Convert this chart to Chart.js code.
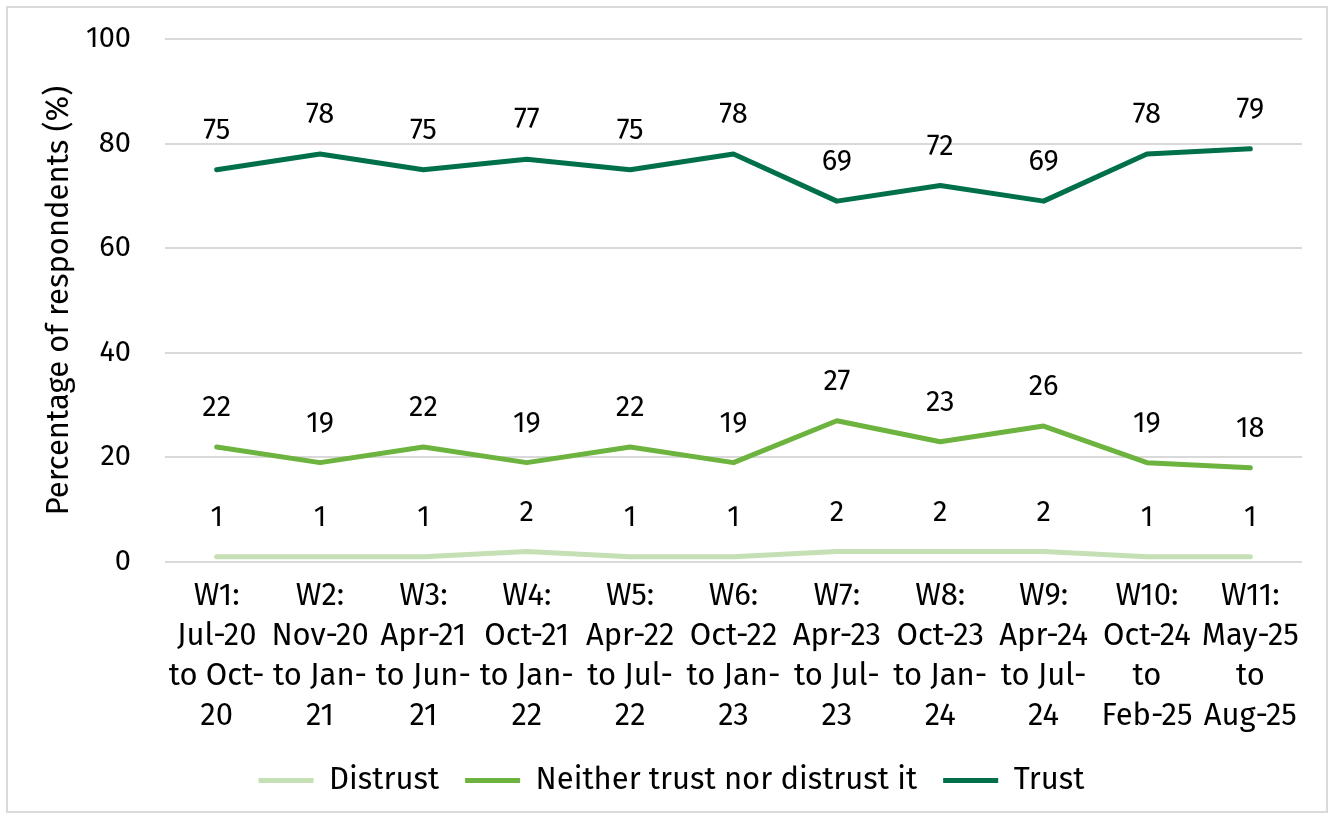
<!DOCTYPE html>
<html>
<head>
<meta charset="utf-8">
<script src="https://cdn.jsdelivr.net/npm/chart.js@4"></script>
<style>
	body { margin: 0; background: #fff; }
	#frame {
		position: absolute; left: 6px; top: 6px; width: 1322px; height: 807px;
		border: 2px solid #d9d9d9; box-sizing: border-box;
	}
	#wrap { position: absolute; left: 0; top: 0; width: 1337px; height: 820px; }
</style>
</head>
<body>
<div id="frame"></div>
<div id="wrap"><canvas id="trustChart"></canvas></div>
<script>
const waves = [
	['W1:', 'Jul-20', 'to Oct-', '20'],
	['W2:', 'Nov-20', 'to Jan-', '21'],
	['W3:', 'Apr-21', 'to Jun-', '21'],
	['W4:', 'Oct-21', 'to Jan-', '22'],
	['W5:', 'Apr-22', 'to Jul-', '22'],
	['W6:', 'Oct-22', 'to Jan-', '23'],
	['W7:', 'Apr-23', 'to Jul-', '23'],
	['W8:', 'Oct-23', 'to Jan-', '24'],
	['W9:', 'Apr-24', 'to Jul-', '24'],
	['W10:', 'Oct-24', 'to', 'Feb-25'],
	['W11:', 'May-25', 'to', 'Aug-25']
];
const distrust = [1, 1, 1, 2, 1, 1, 2, 2, 2, 1, 1];
const neither = [22, 19, 22, 19, 22, 19, 27, 23, 26, 19, 18];
const trust = [75, 78, 75, 77, 75, 78, 69, 72, 69, 78, 79];
const yTicks = [0, 20, 40, 60, 80, 100];

const FONT = "'Fira Sans', 'Noto Sans', sans-serif";
const NUM_SIZE = 29;
const TEXT_SIZE = 31;

// writes each value above its point
const valueLabels = {
	id: 'valueLabels',
	afterDatasetsDraw(chart) {
		const ctx = chart.ctx;
		ctx.save();
		ctx.font = `${NUM_SIZE}px ${FONT}`;
		ctx.fillStyle = '#000';
		ctx.textAlign = 'center';
		ctx.textBaseline = 'middle';
		chart.data.datasets.forEach((ds, i) => {
			chart.getDatasetMeta(i).data.forEach((pt, j) => {
				ctx.fillText(ds.data[j], pt.x, pt.y - 39);
			});
		});
		ctx.restore();
	}
};

function line(label, data, color) {
	return {
		label: label,
		data: data,
		borderColor: color,
		backgroundColor: color,
		borderWidth: 5,
		borderCapStyle: 'round',
		borderJoinStyle: 'round',
		pointRadius: 0,
		tension: 0,
		fill: false
	};
}

new Chart(document.getElementById('trustChart').getContext('2d'), {
	type: 'line',
	data: {
		labels: waves,
		datasets: [
			line('Distrust', distrust, '#c5e0b4'),
			line('Neither trust nor distrust it', neither, '#6db33f'),
			line('Trust', trust, '#00704a')
		]
	},
	options: {
		responsive: true,
		maintainAspectRatio: false,
		animation: false,
		layout: { padding: { left: 41, top: 39, right: 35, bottom: 14 } },
		scales: {
			x: {
				offset: true,
				grid: { display: false, drawTicks: false },
				border: { display: false },
				afterFit: s => { s.height = 177; },
				ticks: {
					color: '#000',
					font: { family: FONT, size: TEXT_SIZE, lineHeight: 40 / TEXT_SIZE },
					autoSkip: false,
					maxRotation: 0,
					padding: 14
				}
			},
			y: {
				min: 0,
				max: 100,
				afterBuildTicks: s => { s.ticks = yTicks.map(v => ({ value: v })); },
				afterFit: s => {
					s.width = 124;
					s.paddingTop = 0;
					s.paddingBottom = 0;
				},
				grid: { color: '#d9d9d9', lineWidth: 2, drawTicks: false },
				border: { display: false },
				ticks: {
					color: '#000',
					font: { family: FONT, size: NUM_SIZE },
					padding: 34
				},
				title: {
					display: true,
					text: 'Percentage of respondents (%)',
					color: '#000',
					font: { family: FONT, size: TEXT_SIZE },
					padding: 0
				}
			}
		},
		plugins: {
			legend: {
				position: 'bottom',
				labels: {
					color: '#000',
					font: { family: FONT, size: TEXT_SIZE },
					boxWidth: 55,
					boxHeight: 5,
					padding: 26,
					generateLabels: chart => chart.data.datasets.map((ds, i) => ({
						text: ds.label,
						fillStyle: ds.borderColor,
						strokeStyle: ds.borderColor,
						lineWidth: 0,
						datasetIndex: i
					}))
				}
			},
			tooltip: { enabled: false }
		}
	},
	plugins: [valueLabels]
});
</script>
</body>
</html>
